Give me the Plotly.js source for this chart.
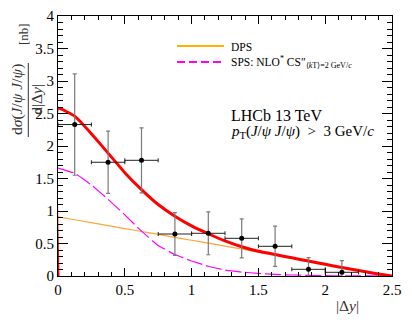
<!DOCTYPE html>
<html>
<head>
<meta charset="utf-8">
<script src="https://cdn.plot.ly/plotly-3.0.1.min.js"></script>
<style>html,body{margin:0;padding:0;background:#fff;}#chart{width:412px;height:329px;}</style>
</head>
<body>
<div id="chart"></div>
<script>
// Measured data points
const dataX = [0.125, 0.375, 0.625, 0.875, 1.125, 1.375, 1.625, 1.875, 2.125];
const dataY = [2.33, 1.75, 1.78, 0.646, 0.657, 0.58, 0.457, 0.103, 0.057];
const dataErrY = [0.78, 0.48, 0.50, 0.33, 0.33, 0.30, 0.31, 0.18, 0.18];
const dataErrX = [0.125, 0.125, 0.125, 0.125, 0.125, 0.125, 0.125, 0.125, 0.125];

// Curves
const curveX = [0, 0.125, 0.25, 0.375, 0.5, 0.625, 0.75, 0.875, 1.0, 1.125, 1.25, 1.375, 1.5, 1.625, 1.75, 1.875, 2.0, 2.125, 2.25, 2.375, 2.5];
const totalY = [2.58, 2.46, 2.19, 1.89, 1.59, 1.33, 1.10, 0.92, 0.77, 0.65, 0.54, 0.45, 0.38, 0.33, 0.28, 0.23, 0.18, 0.13, 0.085, 0.04, 0.0];
const dpsY   = [0.91, 0.865, 0.82, 0.775, 0.73, 0.685, 0.64, 0.595, 0.55, 0.505, 0.46, 0.415, 0.365, 0.32, 0.275, 0.225, 0.175, 0.128, 0.083, 0.04, 0.0];
const spsY   = [1.66, 1.58, 1.40, 1.18, 0.94, 0.69, 0.47, 0.33, 0.23, 0.15, 0.09, 0.06, 0.04, 0.025, 0.015, 0.01, 0.005, 0.003, 0.002, 0.001, 0.0];

const xTicks = [0, 0.5, 1, 1.5, 2, 2.5];
const xTickText = ['0', '0.5', '1', '1.5', '2', '2.5'];
const yTicks = [0, 0.5, 1, 1.5, 2, 2.5, 3, 3.5, 4];
const yTickText = ['0', '0.5', '1', '1.5', '2', '2.5', '3', '3.5', '4'];

const SERIF = 'Liberation Serif, serif';

const traces = [
  {x: curveX, y: dpsY, mode: 'lines', line: {color: '#ffa53a', width: 1.2, shape: 'spline', smoothing: 0.3}, hoverinfo: 'none', showlegend: false},
  {x: curveX, y: spsY, mode: 'lines', line: {color: '#ff00ff', width: 1.2, dash: '16px,4px', shape: 'spline', smoothing: 0.3}, hoverinfo: 'none', showlegend: false},
  {x: [0].concat(curveX), y: [0].concat(totalY), mode: 'lines', line: {color: '#ff0000', width: 3, shape: 'spline', smoothing: 0.3}, hoverinfo: 'none', showlegend: false},
  {x: dataX, y: dataY, mode: 'markers', marker: {color: '#000', size: 5},
   error_y: {type: 'data', array: dataErrY, visible: true, color: '#7a7a7a', thickness: 1.2, width: 2},
   error_x: {type: 'data', array: dataErrX, visible: true, color: '#222', thickness: 1, width: 2},
   hoverinfo: 'none', showlegend: false}
];

function px(xp){return (xp-58)/334;}
function py(yp){return (276-yp)/260;}

const layout = {
  width: 412, height: 329,
  margin: {l: 58, r: 20, t: 16, b: 53},
  paper_bgcolor: '#fff', plot_bgcolor: '#fff',
  font: {family: SERIF, color: '#000', size: 14},
  showlegend: false,
  xaxis: {
    range: [0, 2.5], tickmode: 'array', tickvals: xTicks, ticktext: xTickText,
    ticks: 'inside', ticklen: 8, tickwidth: 1, tickcolor: '#000',
    showline: true, linecolor: '#000', linewidth: 1, mirror: 'ticks',
    showgrid: false, zeroline: false,
    minor: {dtick: 0.1, ticklen: 4, tickwidth: 1, tickcolor: '#000', ticks: 'inside', showgrid: false},
    tickfont: {family: SERIF, size: 15, color: '#000'}
  },
  yaxis: {
    range: [0, 4], tickmode: 'array', tickvals: yTicks, ticktext: yTickText,
    ticks: 'inside', ticklen: 10, tickwidth: 1, tickcolor: '#000',
    showline: true, linecolor: '#000', linewidth: 1, mirror: 'ticks',
    showgrid: false, zeroline: false,
    minor: {dtick: 0.1, ticklen: 5, tickwidth: 1, tickcolor: '#000', ticks: 'inside', showgrid: false},
    tickfont: {family: SERIF, size: 15, color: '#000'}
  },
  shapes: [
    {type: 'line', xref: 'paper', yref: 'paper', x0: px(28.3), x1: px(28.3), y0: py(63), y1: py(137), line: {color: '#333', width: 1}},
    {type: 'line', xref: 'paper', yref: 'paper', x0: px(177), x1: px(224), y0: py(46), y1: py(46), line: {color: '#ffb000', width: 2}},
    {type: 'line', xref: 'paper', yref: 'paper', x0: px(177), x1: px(224), y0: py(62), y1: py(62), line: {color: '#ff00ff', width: 2, dash: '8px,4px'}}
  ],
  annotations: [
    {xref: 'paper', yref: 'paper', x: px(27), y: py(100), text: 'd<i>σ</i>(<i>J</i>/<i>ψ</i> <i>J</i>/<i>ψ</i>)<br>d|Δ<i>y</i>|', align: 'center', textangle: -90, showarrow: false, font: {family: SERIF, size: 15.5, color: '#333'}, xanchor: 'center', yanchor: 'middle'},
    {xref: 'paper', yref: 'paper', x: px(24), y: py(34), text: '[nb]', textangle: -90, showarrow: false, font: {family: SERIF, size: 13, color: '#333'}, xanchor: 'center', yanchor: 'middle'},
    {xref: 'paper', yref: 'paper', x: px(347), y: py(305), text: '|Δ<i>y</i>|', showarrow: false, font: {family: SERIF, size: 15.5, color: '#333'}, xanchor: 'center', yanchor: 'middle'},
    {xref: 'paper', yref: 'paper', x: px(229), y: py(46.5), text: 'DPS', showarrow: false, font: {family: SERIF, size: 11.5, color: '#000'}, xanchor: 'left', yanchor: 'middle'},
    {xref: 'paper', yref: 'paper', x: px(229), y: py(62), text: 'SPS: NLO<sup>*</sup> CS″<sub>⟨<i>k</i>T⟩=2 GeV/<i>c</i></sub>', showarrow: false, font: {family: SERIF, size: 11.5, color: '#000'}, xanchor: 'left', yanchor: 'middle'},
    {xref: 'paper', yref: 'paper', x: px(229), y: py(116), text: 'LHCb 13 TeV', showarrow: false, font: {family: SERIF, size: 16, color: '#000'}, xanchor: 'left', yanchor: 'middle'},
    {xref: 'paper', yref: 'paper', x: px(229), y: py(132), text: '<i>p</i><sub>T</sub>(<i>J</i>/<i>ψ</i> <i>J</i>/<i>ψ</i>)&nbsp;&nbsp;&gt;&nbsp;&nbsp;3 GeV/<i>c</i>', showarrow: false, font: {family: SERIF, size: 15, color: '#000'}, xanchor: 'left', yanchor: 'middle'}
  ]
};

Plotly.newPlot('chart', traces, layout, {staticPlot: true, displayModeBar: false});
</script>
</body>
</html>
